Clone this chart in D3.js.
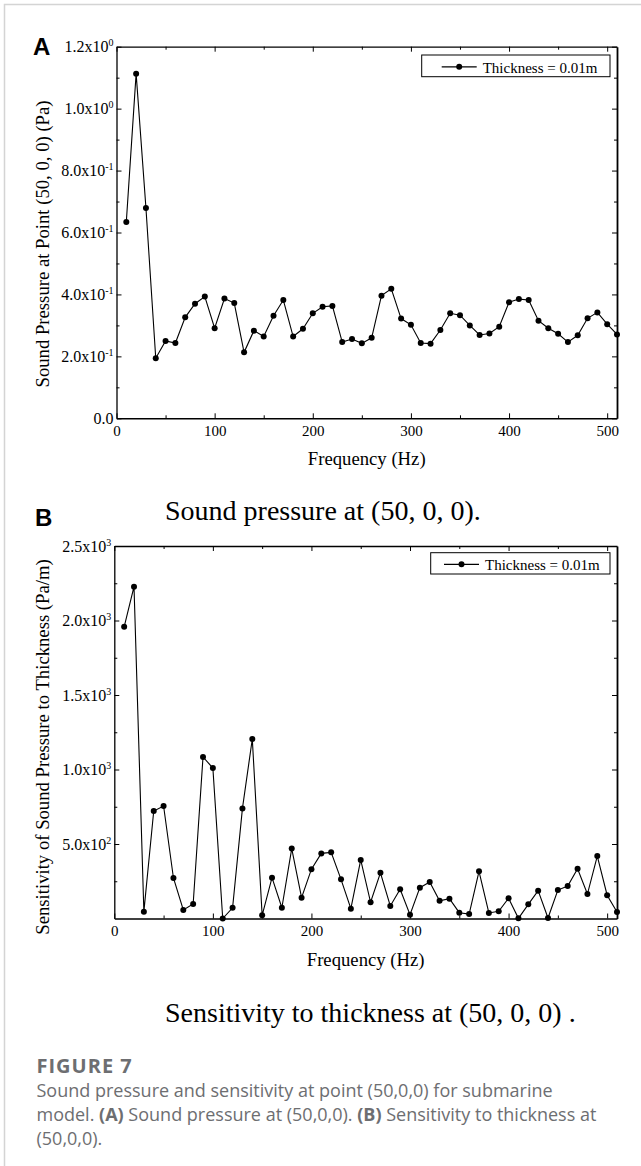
<!DOCTYPE html>
<html lang="en">
<head>
<meta charset="UTF-8" />
<title>Figure 7 - Sound pressure and sensitivity at (50,0,0)</title>
<script src="https://d3js.org/d3.v7.min.js"></script>
<style>
  body { margin: 0; background: #fff; }
  svg { display: block; }
  .serif { font-family: "Liberation Serif", "Times New Roman", serif; fill: #000; }
  .axis text { font-family: "Liberation Serif", "Times New Roman", serif; fill: #000; }
  .axis line, .axis path { stroke: #000; }
  .panel-label { font-family: "Liberation Sans", Arial, sans-serif; font-weight: bold; font-size: 24px; }
  .caption { font-family: "Open Sans", sans-serif; fill: #6d6e71; }
</style>
</head>
<body>

<svg width="641" height="1166"></svg>

<script>
  // Frequencies (Hz) of the computed points
  const freq = [10, 20, 30, 40, 50, 60, 70, 80, 90, 100,
                110, 120, 130, 140, 150, 160, 170, 180, 190, 200,
                210, 220, 230, 240, 250, 260, 270, 280, 290, 300,
                310, 320, 330, 340, 350, 360, 370, 380, 390, 400,
                410, 420, 430, 440, 450, 460, 470, 480, 490, 500, 510];

  // (A) sound pressure at (50,0,0), Pa
  const pressure = [0.634, 1.113, 0.679, 0.194, 0.250, 0.243, 0.326, 0.370, 0.393, 0.291,
                    0.387, 0.372, 0.213, 0.283, 0.264, 0.331, 0.382, 0.264, 0.289, 0.339,
                    0.360, 0.363, 0.246, 0.256, 0.242, 0.260, 0.396, 0.418, 0.322, 0.302,
                    0.243, 0.241, 0.285, 0.339, 0.333, 0.300, 0.269, 0.274, 0.296, 0.375,
                    0.385, 0.382, 0.315, 0.291, 0.273, 0.246, 0.268, 0.323, 0.342, 0.304, 0.271];

  // (B) sensitivity to thickness, Pa/m
  const sensitivity = [1958, 2227, 46, 721, 755, 272, 57, 97, 1084, 1010,
                       0, 72, 739, 1205, 21, 274, 72, 469, 140, 331,
                       437, 444, 263, 66, 393, 109, 307, 84, 196, 26,
                       207, 245, 119, 133, 39, 30, 317, 37, 48, 136,
                       1, 95, 187, 3, 191, 218, 334, 164, 419, 156, 44];

  // ticks
  const xTicks = [0, 100, 200, 300, 400, 500];
  const xMinor = [50, 150, 250, 350, 450];

  const yTicksA = [0, 0.2, 0.4, 0.6, 0.8, 1.0, 1.2];
  const yLabelsA = ["0.0", "2.0x10", "4.0x10", "6.0x10", "8.0x10", "1.0x10", "1.2x10"];
  const yExpA = ["", "-1", "-1", "-1", "-1", "0", "0"];
  const yMinorA = [0.1, 0.3, 0.5, 0.7, 0.9, 1.1];

  const yTicksB = [500, 1000, 1500, 2000, 2500];
  const yLabelsB = ["5.0x10", "1.0x10", "1.5x10", "2.0x10", "2.5x10"];
  const yExpB = ["2", "3", "3", "3", "3"];
  const yMinorB = [250, 750, 1250, 1750, 2250];

  const legendText = "Thickness = 0.01m";

  const svg = d3.select("svg");

  // light frame around the figure
  svg.append("rect")
    .attr("x", 4.5).attr("y", 4.5)
    .attr("width", 700).attr("height", 1200)
    .attr("fill", "none")
    .attr("stroke", "#d4d4d4")
    .attr("stroke-width", 1.5);

  function drawPanel(p) {
    const x = d3.scaleLinear().domain([0, 510]).range([p.left, p.right]);
    const y = d3.scaleLinear().domain(p.yDomain).range([p.bottom, p.top]);
    const g = svg.append("g");

    // bottom axis (labelled), ticks point inward
    const bottom = g.append("g").attr("class", "axis")
      .attr("transform", `translate(0,${p.bottom})`)
      .call(d3.axisBottom(x).tickValues(xTicks).tickSizeInner(-5).tickSizeOuter(0).tickPadding(7));
    bottom.selectAll("text").attr("font-size", 15);
    bottom.select(".domain").attr("stroke-width", 1.5);

    g.append("g").attr("class", "axis")
      .attr("transform", `translate(0,${p.bottom})`)
      .call(d3.axisBottom(x).tickValues(xMinor).tickSize(-3).tickFormat(""))
      .select(".domain").remove();

    // top axis
    g.append("g").attr("class", "axis")
      .attr("transform", `translate(0,${p.top})`)
      .call(d3.axisTop(x).tickValues(xTicks).tickSizeInner(-5).tickSizeOuter(0).tickFormat(""))
      .select(".domain").attr("stroke-width", 1.3);
    g.append("g").attr("class", "axis")
      .attr("transform", `translate(0,${p.top})`)
      .call(d3.axisTop(x).tickValues(xMinor).tickSize(-3).tickFormat(""))
      .select(".domain").remove();

    // left axis with 10^n labels
    const left = g.append("g").attr("class", "axis")
      .attr("transform", `translate(${p.left},0)`)
      .call(d3.axisLeft(y).tickValues(p.yTicks).tickSizeInner(-5).tickSizeOuter(0).tickPadding(3).tickFormat(""));
    left.select(".domain").attr("stroke-width", 1.3);
    left.selectAll(".tick text").each(function(d) {
      const i = p.yTicks.indexOf(d);
      const t = d3.select(this).attr("font-size", 16);
      t.append("tspan").text(p.yLabels[i]);
      if (p.yExp[i]) {
        t.append("tspan").attr("dy", -6).attr("font-size", 10).text(p.yExp[i]);
      }
    });
    g.append("g").attr("class", "axis")
      .attr("transform", `translate(${p.left},0)`)
      .call(d3.axisLeft(y).tickValues(p.yMinor).tickSize(-3).tickFormat(""))
      .select(".domain").remove();

    // right axis
    const right = g.append("g").attr("class", "axis")
      .attr("transform", `translate(${p.right},0)`)
      .call(d3.axisRight(y).tickValues(p.yTicks).tickSizeInner(-5).tickSizeOuter(0).tickFormat(""));
    right.select(".domain").attr("stroke", "#777").attr("stroke-width", 1.8);
    g.append("g").attr("class", "axis")
      .attr("transform", `translate(${p.right},0)`)
      .call(d3.axisRight(y).tickValues(p.yMinor).tickSize(-3).tickFormat(""))
      .select(".domain").remove();

    // series
    const pts = freq.map((f, i) => ({f, v: p.values[i]}));
    const lineGen = d3.line().x(d => x(d.f)).y(d => y(d.v));
    g.append("path")
      .datum(pts)
      .attr("d", lineGen)
      .attr("fill", "none")
      .attr("stroke", "#000")
      .attr("stroke-width", 1.1);
    g.selectAll(".pt")
      .data(pts)
      .enter()
      .append("circle")
      .attr("class", "pt")
      .attr("cx", d => x(d.f))
      .attr("cy", d => y(d.v))
      .attr("r", 3)
      .attr("fill", "#000");

    // legend
    const lg = g.append("g");
    lg.append("rect")
      .attr("x", p.legend.x).attr("y", p.legend.y)
      .attr("width", p.legend.w).attr("height", p.legend.h)
      .attr("fill", "#fff").attr("stroke", "#000").attr("stroke-width", 1);
    const ly = p.legend.y + p.legend.h / 2 + 1;
    lg.append("line")
      .attr("x1", p.legend.lx).attr("x2", p.legend.lx + 35)
      .attr("y1", ly).attr("y2", ly)
      .attr("stroke", "#000").attr("stroke-width", 1.1);
    lg.append("circle")
      .attr("cx", p.legend.lx + 17.5).attr("cy", ly).attr("r", 3).attr("fill", "#000");
    lg.append("text")
      .attr("class", "serif")
      .attr("x", p.legend.lx + 41).attr("y", p.legend.y + p.legend.h - 4)
      .attr("font-size", 15)
      .text(legendText);

    // axis titles
    g.append("text")
      .attr("class", "serif")
      .attr("x", (p.left + p.right) / 2)
      .attr("y", p.bottom + 47)
      .attr("text-anchor", "middle")
      .attr("font-size", 18.7)
      .text("Frequency (Hz)");

    g.append("text")
      .attr("class", "serif")
      .attr("transform", `translate(49,${p.yTitleCenter}) rotate(-90)`)
      .attr("text-anchor", "middle")
      .attr("font-size", 18.7)
      .text(p.yTitle);

    // panel letter
    g.append("text")
      .attr("class", "panel-label")
      .attr("x", p.letterX).attr("y", p.letterY)
      .text(p.letter);

    // sub-caption under the panel
    g.append("text")
      .attr("class", "serif")
      .attr("x", 165).attr("y", p.subY)
      .attr("font-size", 28)
      .text(p.sub);
  }

  drawPanel({
    left: 116.5, right: 617, top: 46.7, bottom: 418.3,
    yDomain: [0, 1.2], values: pressure,
    yTicks: yTicksA, yLabels: yLabelsA, yExp: yExpA, yMinor: yMinorA,
    legend: {x: 421.7, y: 55, w: 188.3, h: 21.7, lx: 441.7},
    yTitle: "Sound Pressure at Point (50, 0, 0) (Pa)", yTitleCenter: 244,
    letter: "A", letterX: 33, letterY: 55,
    sub: "Sound pressure at (50, 0, 0).", subY: 520
  });

  drawPanel({
    left: 114.3, right: 617, top: 546, bottom: 918.5,
    yDomain: [0, 2500], values: sensitivity,
    yTicks: yTicksB, yLabels: yLabelsB, yExp: yExpB, yMinor: yMinorB,
    legend: {x: 430.7, y: 552.7, w: 179.3, h: 21.3, lx: 444},
    yTitle: "Sensitivity of Sound Pressure to Thickness (Pa/m)", yTitleCenter: 747,
    letter: "B", letterX: 35, letterY: 526,
    sub: "Sensitivity to thickness at (50, 0, 0) .", subY: 1022
  });

  // figure caption
  svg.append("text")
    .attr("class", "caption")
    .attr("x", 36.5).attr("y", 1073)
    .attr("font-size", 20).attr("font-weight", "bold")
    .attr("letter-spacing", 1)
    .text("FIGURE 7");

  const cap = svg.append("text")
    .attr("class", "caption")
    .attr("font-size", 18);
  cap.append("tspan").attr("x", 36.5).attr("y", 1097)
    .text("Sound pressure and sensitivity at point (50,0,0) for submarine");
  const l2 = cap.append("tspan").attr("x", 36.5).attr("y", 1121);
  l2.append("tspan").text("model. ");
  l2.append("tspan").attr("font-weight", "bold").text("(A)");
  l2.append("tspan").text(" Sound pressure at (50,0,0). ");
  l2.append("tspan").attr("font-weight", "bold").text("(B)");
  l2.append("tspan").text(" Sensitivity to thickness at");
  cap.append("tspan").attr("x", 36.5).attr("y", 1145).text("(50,0,0).");
</script>

</body>
</html>
